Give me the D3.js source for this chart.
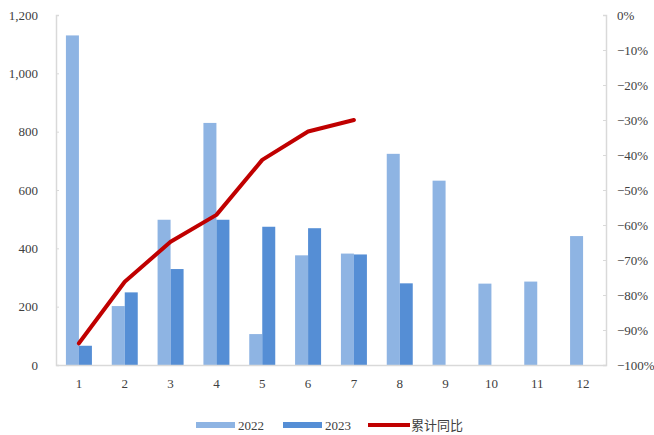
<!DOCTYPE html>
<html>
<head>
<meta charset="utf-8">
<script src="https://cdn.jsdelivr.net/npm/d3@7"></script>
<style>
  body { margin: 0; background: #fff; }
</style>
</head>
<body>
<svg id="chart" width="654" height="435"></svg>
<script>
const months = ["1", "2", "3", "4", "5", "6", "7", "8", "9", "10", "11", "12"];
const v2022 = [1130, 202, 498, 830, 106, 376, 382, 724, 632, 279, 286, 442];
const v2023 = [66, 249, 329, 498, 474, 469, 379, 280, null, null, null, null];
const yoy = [-0.938, -0.762, -0.648, -0.571, -0.414, -0.333, -0.300];
const leftTicks = [0, 200, 400, 600, 800, 1000, 1200];
const rightTicks = [0, -0.1, -0.2, -0.3, -0.4, -0.5, -0.6, -0.7, -0.8, -0.9, -1.0];

const serif = "'Liberation Serif', 'Times New Roman', serif";
const svg = d3.select("#chart");
const margin = { top: 15, right: 48, bottom: 70, left: 56 };
const width = 654 - margin.left - margin.right;
const height = 435 - margin.top - margin.bottom;
const g = svg.append("g").attr("transform", `translate(${margin.left},${margin.top})`);

const x = d3.scaleBand().domain(months).range([0, width]);
const xInner = d3.scaleBand().domain(["2022", "2023"]).range([0, 26]);
const y = d3.scaleLinear().domain([0, 1200]).range([height, 0]);
const y2 = d3.scaleLinear().domain([-1, 0]).range([height, 0]);

const c2022 = "#8eb4e3", c2023 = "#558ed5", cLine = "#c00000";
const off = (x.bandwidth() - 26) / 2;

g.selectAll(".b22").data(v2022).enter().append("rect")
    .attr("x", (d, i) => x(months[i]) + off + xInner("2022"))
    .attr("y", d => y(d))
    .attr("width", xInner.bandwidth())
    .attr("height", d => height - y(d))
    .attr("fill", c2022);

g.selectAll(".b23").data(v2023.filter(d => d != null)).enter().append("rect")
    .attr("x", (d, i) => x(months[i]) + off + xInner("2023"))
    .attr("y", d => y(d))
    .attr("width", xInner.bandwidth())
    .attr("height", d => height - y(d))
    .attr("fill", c2023);

// axes
const axisColor = "#d9d9d9";
const left = g.append("g").call(d3.axisLeft(y).tickValues(leftTicks).tickSize(-3).tickPadding(18).tickFormat(d3.format(",")));
const right = g.append("g").attr("transform", `translate(${width},0)`)
    .call(d3.axisRight(y2).tickValues(rightTicks).tickSize(-3).tickPadding(11).tickFormat(d3.format(".0%")));
const bottom = g.append("g").attr("transform", `translate(0,${height})`)
    .call(d3.axisBottom(x).tickSize(0).tickPadding(14));

[left, right, bottom].forEach(a => {
    a.attr("font-family", serif).attr("font-size", 13);
    a.select(".domain").attr("stroke", axisColor).attr("stroke-width", 1.5);
    a.selectAll(".tick line").attr("stroke", axisColor);
    a.selectAll("text").attr("fill", "#404040");
});

const line = d3.line()
    .x((d, i) => x(months[i]) + x.bandwidth() / 2)
    .y(d => y2(d));

g.append("path")
    .datum(yoy)
    .attr("fill", "none")
    .attr("stroke", cLine)
    .attr("stroke-width", 4)
    .attr("stroke-linejoin", "round")
    .attr("stroke-linecap", "round")
    .attr("d", line);

// legend
const legend = svg.append("g").attr("font-family", serif).attr("font-size", 13).attr("fill", "#404040");
legend.append("rect").attr("x", 196).attr("y", 422).attr("width", 39).attr("height", 6).attr("fill", c2022);
legend.append("text").attr("x", 238).attr("y", 430).text("2022");
legend.append("rect").attr("x", 283).attr("y", 422).attr("width", 39).attr("height", 6).attr("fill", c2023);
legend.append("text").attr("x", 325).attr("y", 430).text("2023");
legend.append("line").attr("x1", 368).attr("x2", 410).attr("y1", 425).attr("y2", 425)
    .attr("stroke", cLine).attr("stroke-width", 4);
legend.append("text").attr("x", 411).attr("y", 430)
    .attr("font-family", "'Noto Sans CJK SC', sans-serif").text("累计同比");
</script>
</body>
</html>
